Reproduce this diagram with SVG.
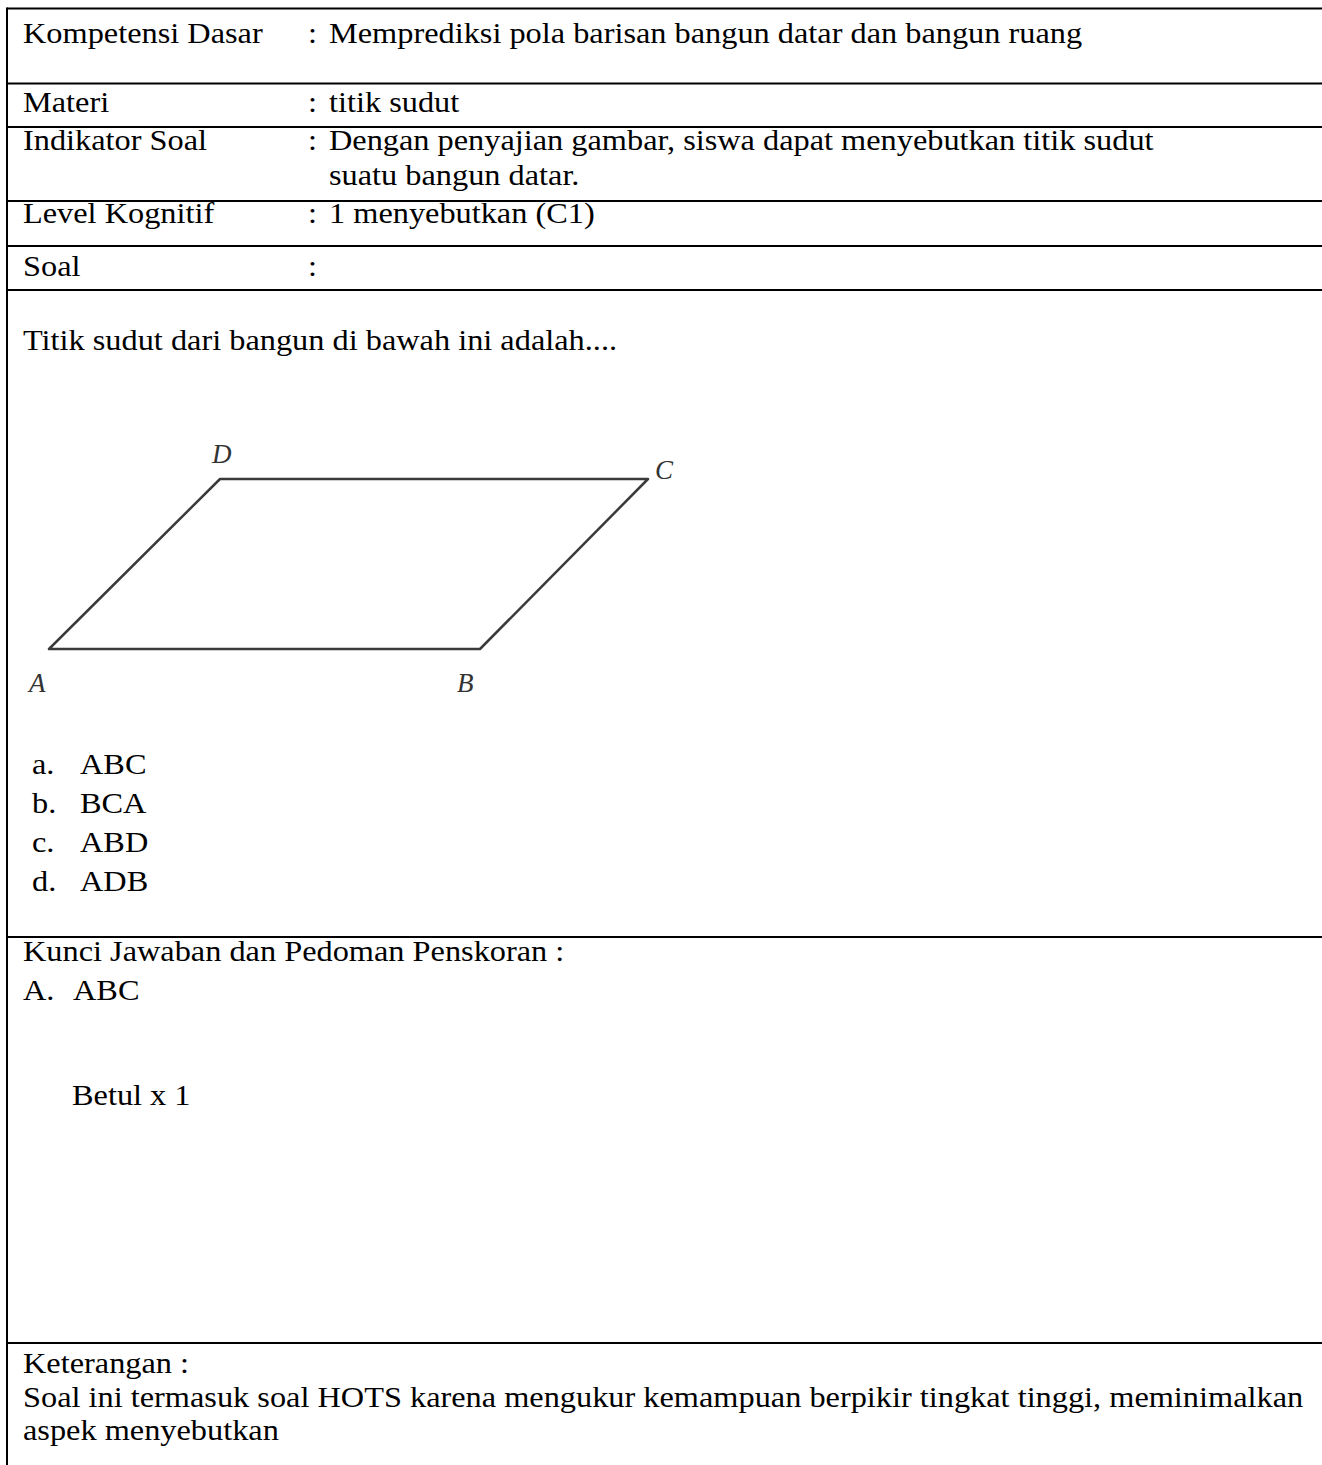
<svg xmlns="http://www.w3.org/2000/svg" width="1322" height="1465" viewBox="0 0 1322 1465">
  <style>
    .t { font-family: "Liberation Serif", "Times New Roman", serif; font-size: 29px; fill: #000; }
    .rule { stroke: #000; stroke-width: 2; fill: none; }
    .shape { stroke: #3a3a3a; stroke-width: 2.5; fill: none; stroke-linejoin: round; }
    .lbl { font-family: "Liberation Serif", "Times New Roman", serif; font-style: italic; font-size: 27px; fill: #333; }
  </style>
  <rect width="1322" height="1465" fill="#fff"/>
  <g id="table-lines">
    <line class="rule" x1="7" y1="8.5" x2="1322" y2="8.5"/>
    <line class="rule" x1="7" y1="7.5" x2="7" y2="1465"/>
    <line class="rule" x1="7" y1="83.5" x2="1322" y2="83.5"/>
    <line class="rule" x1="7" y1="127" x2="1322" y2="127"/>
    <line class="rule" x1="7" y1="201" x2="1322" y2="201"/>
    <line class="rule" x1="7" y1="246" x2="1322" y2="246"/>
    <line class="rule" x1="7" y1="290" x2="1322" y2="290"/>
    <line class="rule" x1="7" y1="937" x2="1322" y2="937"/>
    <line class="rule" x1="7" y1="1343" x2="1322" y2="1343"/>
  </g>
  <g id="texts" transform="scale(1.115 1)">
    <text class="t" x="20.63" y="43">Kompetensi Dasar</text>
    <text class="t" x="276.23" y="43">:</text>
    <text class="t" x="295.07" y="43">Memprediksi pola barisan bangun datar dan bangun ruang</text>
    <text class="t" x="20.63" y="112">Materi</text>
    <text class="t" x="276.23" y="112">:</text>
    <text class="t" x="295.07" y="112">titik sudut</text>
    <text class="t" x="20.63" y="150">Indikator Soal</text>
    <text class="t" x="276.23" y="150">:</text>
    <text class="t" x="295.07" y="150">Dengan penyajian gambar, siswa dapat menyebutkan titik sudut</text>
    <text class="t" x="295.07" y="185">suatu bangun datar.</text>
    <text class="t" x="20.63" y="223">Level Kognitif</text>
    <text class="t" x="276.23" y="223">:</text>
    <text class="t" x="295.07" y="223">1 menyebutkan (C1)</text>
    <text class="t" x="20.63" y="276">Soal</text>
    <text class="t" x="276.23" y="276">:</text>
    <text class="t" x="20.63" y="350">Titik sudut dari bangun di bawah ini adalah....</text>
    <text class="t" x="28.7" y="774">a.</text>
    <text class="t" x="71.75" y="774">ABC</text>
    <text class="t" x="28.7" y="813">b.</text>
    <text class="t" x="71.75" y="813">BCA</text>
    <text class="t" x="28.7" y="852">c.</text>
    <text class="t" x="71.75" y="852">ABD</text>
    <text class="t" x="28.7" y="891">d.</text>
    <text class="t" x="71.75" y="891">ADB</text>
    <text class="t" x="20.63" y="961">Kunci Jawaban dan Pedoman Penskoran :</text>
    <text class="t" x="20.63" y="1000">A.</text>
    <text class="t" x="65.47" y="1000">ABC</text>
    <text class="t" x="64.57" y="1105">Betul x 1</text>
    <text class="t" x="20.63" y="1373">Keterangan :</text>
    <text class="t" x="20.63" y="1407">Soal ini termasuk soal HOTS karena mengukur kemampuan berpikir tingkat tinggi, meminimalkan</text>
    <text class="t" x="20.63" y="1440">aspek menyebutkan</text>
  </g>
  <g id="parallelogram">
    <polygon class="shape" points="49,649 480,649 648,479 220,479"/>
    <text class="lbl" x="212" y="463">D</text>
    <text class="lbl" x="655" y="479">C</text>
    <text class="lbl" x="29" y="692">A</text>
    <text class="lbl" x="457" y="692">B</text>
  </g>
</svg>
